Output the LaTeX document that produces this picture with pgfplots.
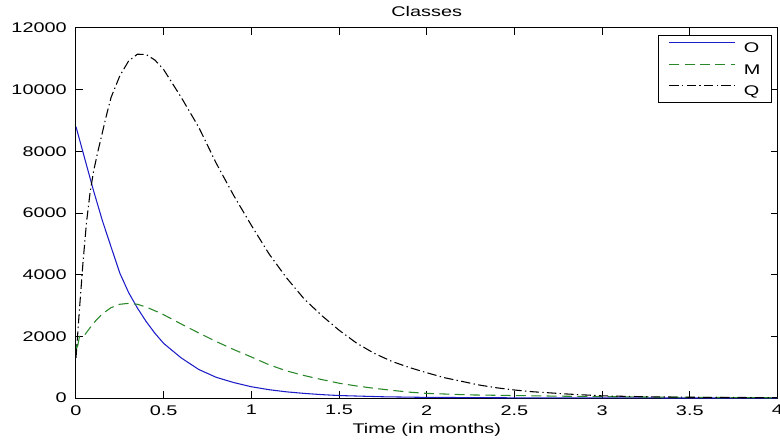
\documentclass[border=0pt]{standalone}
\usepackage{fontspec}
\setmainfont{Liberation Sans}[FakeStretch=1.42]
\usepackage{pgfplots}
\pgfplotsset{compat=1.18}
\definecolor{mblue}{RGB}{30,30,200}
\definecolor{mgreen}{RGB}{40,135,40}
\begin{document}
\begin{tikzpicture}
\begin{axis}[
  scale only axis, width=526.1pt, height=277.5pt,
  xmin=0, xmax=4, ymin=0, ymax=12000,
  xtick={0,0.5,1,1.5,2,2.5,3,3.5,4},
  xticklabels={0,0.5,1,1.5,2,2.5,3,3.5,4},
  ytick={0,2000,4000,6000,8000,10000,12000},
  scaled y ticks=false,
  /pgf/number format/1000 sep={},
  /pgf/number format/assume math mode=true,
  tick align=inside, major tick length=5pt, minor tick num=0,
  axis line style={line width=0.75pt},
  every tick/.style={line width=0.75pt, black},
  font=\fontsize{10.5}{12.6}\selectfont,
  xticklabel style={inner sep=0pt, anchor=north, yshift=-5.25pt},
  yticklabel style={inner sep=0pt, anchor=east, xshift=-6.75pt},
  title={Classes},
  every axis title/.style={at={(axis description cs:0.5,1)}, anchor=base, yshift=8.25pt, inner sep=0pt},
  xlabel={Time (in months)},
  every axis x label/.style={at={(axis description cs:0.5,0)}, anchor=base, yshift=-26.25pt, inner sep=0pt},
  legend style={at={(axis description cs:1,1)}, anchor=north east, xshift=-4.4pt, yshift=-5.25pt,
    draw=black, fill=white, line width=0.6pt, inner xsep=8pt, inner ysep=5pt,
    row sep=8.25pt, column sep=6pt,
    nodes={inner sep=0pt, text height=7.5pt, text depth=0pt}},
  legend cell align=left,
  legend image code/.code={\draw[#1] (0pt,3.75pt) -- (49.5pt,3.75pt);},
]
\addplot[mblue, line width=0.8pt] coordinates {
(0,8800) (0.05,7760) (0.1,6725) (0.15,5760) (0.2,4900) (0.25,4050) (0.3,3420)
(0.35,2920) (0.4,2480) (0.45,2100) (0.5,1770) (0.6,1300) (0.7,925) (0.8,670)
(0.9,500) (1.0,365) (1.1,270) (1.2,200) (1.3,150) (1.4,110) (1.5,80) (1.75,40)
(2.0,20) (2.5,6) (3.0,2) (3.5,1) (4.0,0)};
\addlegendentry{O}
\addplot[mgreen, line width=0.8pt, dash pattern=on 7.5pt off 4pt] coordinates {
(0,1400) (0.005,1800) (0.01,1700) (0.02,2000) (0.05,2050) (0.1,2430) (0.15,2730)
(0.2,2930) (0.25,3040) (0.3,3070) (0.35,3040) (0.4,2950) (0.45,2830) (0.5,2700)
(0.6,2400) (0.7,2110) (0.8,1830) (0.9,1570) (1.0,1330) (1.1,1080) (1.2,880)
(1.3,730) (1.4,600) (1.5,480) (1.6,390) (1.7,315) (1.8,250) (1.9,190) (2.0,150)
(2.25,100) (2.5,80) (2.75,60) (3.0,45) (3.5,20) (4.0,8)};
\addlegendentry{M}
\addplot[black, line width=0.8pt, dash pattern=on 7pt off 2.5pt on 1pt off 2.5pt] coordinates {
(0,1300) (0.02,2900) (0.04,4400) (0.06,5700) (0.08,6650) (0.1,7350) (0.125,8000)
(0.15,8600) (0.175,9200) (0.2,9750) (0.25,10450) (0.3,10930) (0.35,11150)
(0.4,11140) (0.45,10960) (0.5,10650) (0.6,9750) (0.7,8780) (0.8,7610) (0.9,6560)
(1.0,5600) (1.1,4680) (1.2,3900) (1.3,3220) (1.4,2680) (1.5,2200) (1.6,1780)
(1.7,1450) (1.8,1190) (1.9,990) (2.0,820) (2.1,660) (2.2,540) (2.3,420) (2.4,330)
(2.5,260) (2.6,205) (2.8,130) (3.0,70) (3.25,40) (3.5,25) (4.0,10)};
\addlegendentry{Q}
\end{axis}
\pgfresetboundingbox
\useasboundingbox (-57pt,-31.5pt) rectangle (528pt,298.5pt);
\end{tikzpicture}
\end{document}
